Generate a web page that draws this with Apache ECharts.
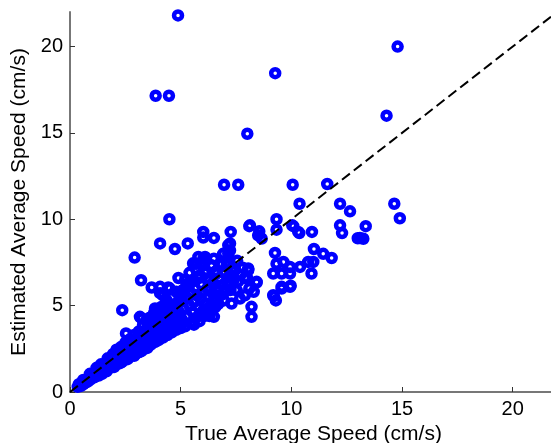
<!DOCTYPE html>
<html>
<head>
<meta charset="utf-8">
<script src="https://cdn.jsdelivr.net/npm/echarts@6/dist/echarts.min.js"></script>
<style>
  html, body { margin: 0; padding: 0; background: #fff; }
  #main { width: 551px; height: 443px; }
</style>
</head>
<body>
<div id="main"></div>
<script>
// [true speed, estimated speed] in cm/s
var bandPoints = [
  [0.35,0.3],[0.4,0.45],[0.45,0.4],[0.5,0.35],[0.55,0.5],[0.6,0.45],[0.65,0.6],[0.7,0.55],[0.75,0.7],[0.8,0.6],
  [0.85,0.75],[0.9,0.7],[0.95,0.85],[1.0,0.8],[1.0,0.95],[1.05,0.9],[1.1,0.85],[1.1,1.1],[1.15,1.0],[1.2,0.95],
  [1.25,1.2],[1.3,1.05],[1.3,1.3],[1.35,1.1],[1.4,1.25],[1.45,1.05],[1.5,1.45],[1.5,1.2],[1.55,1.3],[1.6,1.6],
  [1.6,1.25],[1.65,1.4],[1.7,1.35],[1.7,1.75],[1.75,1.5],[1.8,1.4],[1.85,1.7],[1.9,1.55],[1.9,1.95],[1.95,1.45],
  [2.0,1.8],[2.0,1.6],[2.05,2.1],[2.1,1.7],[2.15,1.95],[2.2,1.65],[2.2,2.3],[2.25,1.85],[2.3,2.1],[2.35,1.75],
  [2.4,2.5],[2.4,2.0],[2.45,2.25],[2.5,1.9],[2.55,2.6],[2.6,2.1],[2.6,2.35],[2.65,2.0],[2.7,2.75],[2.75,2.3],
  [2.8,2.15],[2.8,2.6],[2.85,2.9],[2.9,2.4],[2.95,2.2],[3.0,2.8],[3.0,3.1],[3.05,2.5],[3.1,2.3],[3.15,2.95],
  [3.2,3.3],[3.2,2.6],[3.25,2.4],[3.3,2.85],[3.35,3.5],[3.4,2.7],[3.45,3.1],[3.5,2.55],[3.5,3.7],[3.55,2.9],
  [3.6,3.3],[3.65,2.75],[3.7,3.85],[3.75,3.0],[3.8,3.5],[3.85,2.9],[3.9,4.1],[3.9,3.2],[3.95,3.65],[4.0,3.0],
  [4.05,4.3],[4.1,3.4],[4.15,3.8],[4.2,3.15],[4.25,4.5],[4.3,3.6],[4.35,4.0],[4.4,3.3],[4.45,4.7],[4.5,3.75],
  [4.55,4.2],[4.6,3.45],[4.65,4.9],[4.7,3.9],[4.75,4.4],[4.8,3.6],[4.85,5.1],[4.9,4.05],[4.95,4.6],[5.0,3.7],
  [0.6,0.7],[0.9,1.05],[1.2,1.4],[1.4,1.6],[1.7,1.95],[1.95,2.2],[2.1,2.45],[2.3,2.6],[2.5,2.85],[2.7,3.05],
  [1.3,0.95],[1.65,1.2],[2.0,1.45],[2.3,1.7],[2.6,1.9],[2.9,2.1],[3.2,2.35],
  [2.9,3.3],[3.1,3.5],[3.3,3.9],[3.6,4.3],[3.8,4.6],[4.1,4.9],[4.3,5.1],[4.6,5.5],[4.8,5.8],[5.2,6.5],
  [5.4,6.9],[5.7,7.1],[6.0,7.5],[4.2,5.6],[4.5,6.0],[4.9,6.6],[3.5,4.0],[4.0,4.6],
  [3.16,4.35],[3.46,4.16],[3.92,4.74],[4.52,4.93],[4.97,5.7],[5.42,6.28],[3.24,4.26],[3.84,4.84],[4.37,5.3],
  [5.0,5.3],[5.05,4.2],[5.1,5.9],[5.15,4.8],[5.2,3.8],[5.25,5.5],[5.3,4.4],[5.35,6.3],[5.4,5.0],[5.45,4.0],
  [5.5,5.7],[5.5,6.4],[5.55,4.6],[5.6,3.9],[5.6,5.2],[5.65,6.0],[5.7,4.3],[5.75,5.6],[5.8,4.9],[5.8,6.6],
  [5.85,4.1],[5.9,5.4],[5.95,6.2],[6.0,4.7],[6.0,5.8],[6.05,4.4],[6.1,6.9],[6.1,5.1],[6.15,4.5],[6.2,6.0],
  [6.25,5.5],[6.3,4.4],[6.3,6.5],[6.35,5.0],[6.4,7.3],[6.45,5.7],[6.5,4.35],[6.5,6.2],[6.55,4.9],[6.6,5.4],
  [6.6,7.0],[6.65,6.0],[6.7,5.1],[6.75,6.6],[6.8,5.6],[6.85,7.4],[6.9,6.2],[6.95,5.3],[7.0,6.9],[7.0,5.8],
  [7.1,7.5],[7.1,6.3],[7.15,6.18],[7.2,6.7],[7.25,5.9],[7.3,7.1],[7.3,5.12],[7.4,6.5],[7.45,7.05],[7.5,5.9],
  [7.55,7.6],[7.6,6.4],[7.68,5.41],[7.7,6.8],[7.8,7.2],[7.9,6.6],[8.05,7.05],[8.05,7.15],[8.43,6.38],
  [5.56,7.45],[5.72,7.43],[6.02,7.72],[6.5,7.72],[7.08,7.34],[5.8,7.82],[6.1,7.82],[6.92,8.0],[5.65,7.43],
  [6.4,7.34],[6.78,7.43],[5.87,6.76],[6.17,6.57],[6.62,6.86],[7.23,6.67],[6.78,5.6],[6.32,5.9],[5.12,5.9],
  [5.04,5.41],[6.62,5.03],[6.17,5.12],[5.5,6.38],[7.53,5.9],[7.9,5.6],[8.1,6.0],[8.3,5.8],[8.0,6.6]
];

var outlierPoints = [
  [4.88,21.8],[3.87,17.15],[4.47,17.15],[9.27,18.46],[8.01,14.95],[14.8,20.0],[14.3,16.0],
  [11.62,12.04],[6.96,12.0],[7.6,12.0],[10.06,12.0],[10.37,10.9],[12.2,10.9],[12.65,10.46],
  [14.65,10.9],[14.9,10.06],[9.33,10.0],[8.1,9.6],[8.55,9.3],[7.26,9.27],[10.04,9.65],[10.31,9.27],
  [10.93,9.27],[12.2,9.65],[12.29,9.2],[13.36,9.6],[13.0,8.9],[13.1,8.92],[13.25,8.87],[9.33,9.4],
  [8.66,8.88],[6.02,9.27],[6.5,8.92],[6.02,8.94],[7.23,8.6],[7.23,8.2],[7.15,8.5],[7.15,8.0],
  [9.26,8.05],[11.02,8.28],[11.44,8.0],[11.82,7.76],[8.05,7.1],[8.43,6.34],[9.56,6.09],[9.94,6.09],
  [9.18,5.6],[8.2,4.35],[8.2,4.93],[9.21,5.55],[9.56,5.99],[9.97,6.15],[10.09,9.6],[10.36,9.2],
  [9.33,7.43],[9.64,7.53],[9.94,7.24],[9.18,6.86],[9.56,6.86],[9.94,6.86],[10.39,7.24],[10.76,7.53],
  [10.99,7.53],[10.91,6.86],[8.5,9.07],[8.13,9.65],[4.49,10.0],[4.07,8.6],[4.74,8.28],[5.32,8.6],
  [2.92,7.78],[3.21,6.47],[3.69,6.05],[4.07,6.09],[4.44,6.05],[4.07,5.72],[5.04,5.8],[2.36,4.74],
  [2.53,3.39],[9.3,5.3]
];

var refLine = [[0, 0], [22, 22]];
var tickValues = [0, 5, 10, 15, 20];

var myChart = echarts.init(document.getElementById('main'));

var axisCommon = {
  type: 'value',
  min: 0,
  max: 22,
  interval: 5,
  nameLocation: 'middle',
  nameTextStyle: { color: '#000', fontSize: 21, fontFamily: 'Liberation Sans' },
  axisLine: { show: true, lineStyle: { color: '#777', width: 2 } },
  axisTick: { show: true, inside: true, length: 5, customValues: tickValues, lineStyle: { color: '#333', width: 1 } },
  axisLabel: { color: '#000', fontSize: 20, fontFamily: 'Liberation Sans', customValues: tickValues },
  splitLine: { show: false }
};

var option = {
  animation: false,
  grid: { left: 70, right: -6, top: 12, bottom: 51, outerBoundsMode: 'none' },
  xAxis: Object.assign({}, axisCommon, {
    name: 'True Average Speed (cm/s)',
    nameGap: 29,
    axisLabel: Object.assign({}, axisCommon.axisLabel, { margin: 7 })
  }),
  yAxis: Object.assign({}, axisCommon, {
    name: 'Estimated Average Speed (cm/s)',
    nameGap: 38,
    axisLabel: Object.assign({}, axisCommon.axisLabel, { margin: 7 })
  }),
  series: [
    {
      type: 'scatter',
      data: bandPoints.concat(outlierPoints),
      symbol: 'circle',
      symbolSize: 8,
      itemStyle: { color: 'rgba(0,0,0,0)', borderColor: '#0000ff', borderWidth: 4.5, opacity: 1 },
      silent: true
    },
    {
      type: 'line',
      data: refLine,
      symbol: 'none',
      silent: true,
      z: 5,
      lineStyle: { color: '#000', width: 2, type: [10, 5] }
    }
  ]
};

myChart.setOption(option);
</script>
</body>
</html>
